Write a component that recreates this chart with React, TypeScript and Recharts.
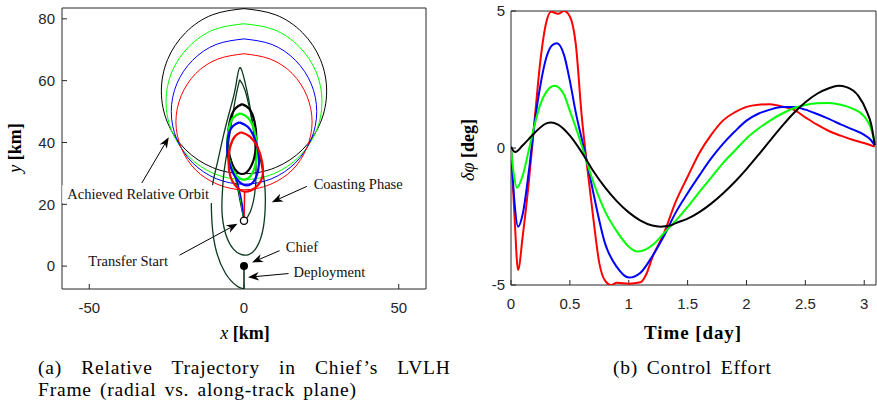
import React from 'react'
import { ScatterChart, Scatter, XAxis, YAxis, ReferenceLine } from 'recharts'

// ─── (a) relative trajectory in the chief's LVLH frame, [x km, y km] ─────

const orbitBlack = [[0, 83.3], [10.2, 81.3], [18.9, 75.5], [24.7, 66.8], [26.7, 56.6], [24.7, 46.4], [18.9, 37.7], [10.2, 31.9], [0, 29.9], [-10.2, 31.9], [-18.9, 37.7], [-24.7, 46.4], [-26.7, 56.6], [-24.7, 66.8], [-18.9, 75.5], [-10.2, 81.3], [0, 83.3]]
const orbitGreen = [[0, 78.4], [9.65, 76.5], [17.8, 71.0], [23.3, 62.85], [25.2, 53.2], [23.3, 43.55], [17.8, 35.4], [9.65, 29.9], [0, 28.0], [-9.65, 29.9], [-17.8, 35.4], [-23.3, 43.55], [-25.2, 53.2], [-23.3, 62.85], [-17.8, 71.0], [-9.65, 76.5], [0, 78.4]]
const orbitBlue = [[0, 73.5], [9.0, 71.7], [16.6, 66.6], [21.7, 59.0], [23.5, 50], [21.7, 41.0], [16.6, 33.4], [9.0, 28.3], [0, 26.5], [-9.0, 28.3], [-16.6, 33.4], [-21.7, 41.0], [-23.5, 50], [-21.7, 59.0], [-16.6, 66.6], [-9.0, 71.7], [0, 73.5]]
const orbitRed = [[0, 68.7], [8.4, 67.0], [15.6, 62.3], [20.3, 55.1], [22, 46.7], [20.3, 38.3], [15.6, 31.1], [8.4, 26.4], [0, 24.7], [-8.4, 26.4], [-15.6, 31.1], [-20.3, 38.3], [-22, 46.7], [-20.3, 55.1], [-15.6, 62.3], [-8.4, 67.0], [0, 68.7]]

const loopBlack = [[-0.6, 52.4], [1.7, 50.9], [3.4, 46.75], [4.0, 41.1], [3.4, 35.45], [1.7, 31.3], [-0.6, 29.8], [-2.9, 31.3], [-4.6, 35.45], [-5.2, 41.1], [-4.6, 46.75], [-2.9, 50.9], [-0.6, 52.4]]
const loopGreen = [[-1.2, 49.4], [1.3, 48.0], [3.3, 44.05], [4.2, 38.7], [3.8, 33.35], [2.3, 29.4], [-0.05, 28.0], [-2.5, 29.4], [-4.5, 33.35], [-5.4, 38.7], [-5.0, 44.05], [-3.5, 48.0], [-1.2, 49.4]]
const loopBlue = [[-1.5, 46.5], [1.2, 45.1], [3.4, 41.4], [4.7, 36.3], [4.6, 31.2], [3.2, 27.5], [0.9, 26.1], [-1.8, 27.5], [-4.0, 31.2], [-5.3, 36.3], [-5.2, 41.4], [-3.8, 45.1], [-1.5, 46.5]]
const loopRed = [[-1.0, 43.3], [1.8, 42.0], [4.4, 38.5], [5.9, 33.5], [5.9, 28.8], [3.6, 25.3], [0.2, 24.1], [-2.6, 25.8], [-4.4, 29.0], [-5.0, 33.7], [-4.5, 38.5], [-2.9, 42.0], [-1.0, 43.3]]

const tailBlack = [[0, 15], [-1.0, 20], [-2.4, 27], [-3.8, 33], [-4.6, 35.45]]
const tailGreen = [[0, 15], [-0.8, 20], [-2.0, 26], [-3.4, 31]]
const tailBlue = [[0, 15], [-0.6, 20], [-1.6, 25], [-2.6, 28.5]]
const tailRed = [[0, 15], [0.1, 19], [0.2, 24.1]]

const deployPath = [[0, -7.4], [-2.3, -6.4], [-6.0, -2.3], [-9.3, 6.3], [-10.5, 17.2], [-10.2, 26], [-8.7, 33], [-6.7, 42], [-4.5, 50.6], [-2.7, 58], [-1.4, 64.2], [0.2, 60], [1.5, 54], [2.8, 46], [3.6, 38], [3.9, 30], [3.4, 23], [2.0, 17.5], [0.3, 14.8]]
const coastPath = [[-1.4, 60.3], [0.3, 57], [2.0, 50], [3.6, 42], [5.3, 34.4], [6.6, 27], [6.9, 21], [6.3, 12.8], [4.2, 6.3], [1.5, 3.7], [-1.0, 3.8], [-3.4, 5.5], [-5.8, 10], [-7.0, 16], [-7.1, 21.5], [-6.5, 30], [-5.3, 38], [-3.9, 47.3], [-2.6, 55], [-1.4, 60.3]]
const deployStem = [[0, 0], [0, -7.4]]

const chiefAt = [[0, 0]]
const transferStartAt = [[0, 14.7]]

const noteLabels = ['Achieved Relative Orbit', 'Coasting Phase', 'Transfer Start', 'Chief', 'Deployment']
const noteAt = [[-57.1, 23.3], [22.5, 26.5], [-50.3, 1.7], [13.5, 6.3], [16.0, -1.9]]
const arrowFrom = [[-33, 26.9], [20.3, 25.8], [-22.2, 2.8], [11.5, 5.0], [15.5, -2.3]]
const arrowTo = [[-24.3, 41.7], [9.0, 20.7], [-2.1, 13.7], [2.6, 1.2], [1.3, -3.6]]

const xTicksA = [-50, 0, 50]
const yTicksA = [0, 20, 40, 60, 80]

// ─── (b) control effort, [time day, δφ deg] ──────────────────────────────

const effortRed = [[0, 0], [0.03, -2.5], [0.06, -4.45], [0.1, -3.2], [0.15, -1.3], [0.2, 1.0], [0.25, 3.2], [0.3, 4.6], [0.34, 4.97], [0.4, 4.9], [0.45, 5.0], [0.5, 4.8], [0.55, 3.8], [0.6, 1.2], [0.65, -0.8], [0.7, -2.6], [0.75, -4.2], [0.8, -4.85], [0.85, -5.0], [0.9, -4.92], [1.0, -4.95], [1.1, -4.9], [1.15, -4.6], [1.2, -4.0], [1.3, -3.1], [1.4, -1.95], [1.5, -1.05], [1.6, -0.18], [1.7, 0.48], [1.8, 1.0], [1.9, 1.3], [2.0, 1.5], [2.1, 1.58], [2.2, 1.6], [2.3, 1.52], [2.4, 1.4], [2.5, 1.12], [2.6, 0.85], [2.7, 0.62], [2.8, 0.45], [2.9, 0.3], [3.0, 0.18], [3.09, 0.05]]
const effortBlue = [[0, 0], [0.03, -2.0], [0.06, -2.87], [0.1, -2.4], [0.15, -0.9], [0.2, 0.9], [0.25, 2.3], [0.3, 3.3], [0.35, 3.75], [0.39, 3.82], [0.45, 3.4], [0.5, 2.45], [0.55, 1.3], [0.6, 0.35], [0.65, -0.6], [0.7, -1.65], [0.8, -3.5], [0.9, -4.35], [1.0, -4.73], [1.1, -4.55], [1.2, -3.95], [1.3, -3.2], [1.4, -2.35], [1.5, -1.65], [1.6, -1.0], [1.7, -0.38], [1.8, 0.15], [1.9, 0.6], [2.0, 1.0], [2.1, 1.25], [2.2, 1.4], [2.3, 1.5], [2.4, 1.5], [2.5, 1.4], [2.6, 1.24], [2.7, 1.06], [2.8, 0.86], [2.9, 0.68], [3.0, 0.48], [3.05, 0.32], [3.09, 0.1]]
const effortGreen = [[0, 0], [0.025, -1.0], [0.05, -1.45], [0.1, -1.0], [0.15, -0.1], [0.2, 0.84], [0.25, 1.6], [0.3, 2.05], [0.37, 2.27], [0.45, 1.95], [0.5, 1.35], [0.55, 0.75], [0.6, 0.1], [0.65, -0.6], [0.7, -1.25], [0.8, -2.32], [0.9, -3.05], [1.0, -3.6], [1.08, -3.78], [1.2, -3.55], [1.3, -3.1], [1.4, -2.65], [1.5, -2.15], [1.6, -1.6], [1.7, -1.08], [1.8, -0.55], [1.9, -0.1], [2.0, 0.35], [2.1, 0.7], [2.2, 1.0], [2.3, 1.25], [2.4, 1.45], [2.5, 1.57], [2.6, 1.63], [2.7, 1.64], [2.8, 1.58], [2.9, 1.44], [3.0, 1.15], [3.05, 0.8], [3.09, 0.2]]
const effortBlack = [[0, 0.05], [0.035, -0.15], [0.1, 0.1], [0.2, 0.55], [0.3, 0.9], [0.34, 0.93], [0.4, 0.85], [0.5, 0.45], [0.6, -0.15], [0.7, -0.85], [0.8, -1.45], [0.9, -1.95], [1.0, -2.35], [1.1, -2.65], [1.2, -2.83], [1.27, -2.87], [1.35, -2.83], [1.4, -2.74], [1.5, -2.58], [1.6, -2.34], [1.7, -2.03], [1.8, -1.66], [1.9, -1.24], [2.0, -0.77], [2.1, -0.26], [2.2, 0.27], [2.3, 0.79], [2.4, 1.27], [2.5, 1.67], [2.6, 1.98], [2.7, 2.18], [2.78, 2.27], [2.85, 2.22], [2.95, 1.9], [3.02, 1.35], [3.06, 0.85], [3.09, 0.1]]

const xTicksB = [0, 0.5, 1, 1.5, 2, 2.5, 3]
const yTicksB = [-5, 0, 5]

// ─── styling ──────────────────────────────────────────────────────────────

const AX = '#262626'
const DARK_GREEN = '#0b3a1c'
const SERIF = '"Liberation Serif", "Times New Roman", serif'
const SANS = '"Liberation Sans", Arial, Helvetica, sans-serif'
const tickFont = { fill: AX, fontSize: 15, fontFamily: SANS }

const toPts = (a: number[][]) => a.map(([x, y]) => ({ x, y }))
const NoMark = () => <g />

function ArrowShape(p: any) {
  const { x1, y1, x2, y2 } = p
  const ang = Math.atan2(y2 - y1, x2 - x1)
  const L = 11, W = 4.2
  const c = Math.cos(ang), s = Math.sin(ang)
  const bx = x2 - L * c, by = y2 - L * s
  const nx = x2 - 0.7 * L * c, ny = y2 - 0.7 * L * s
  return (
    <g>
      <line x1={x1} y1={y1} x2={nx} y2={ny} stroke="#000" strokeWidth={1} />
      <polygon points={`${x2},${y2} ${bx - s * W},${by + c * W} ${nx},${ny} ${bx + s * W},${by - c * W}`} fill="#000" />
    </g>
  )
}

function NoteShape(p: any) {
  const { cx, cy, payload } = p
  const w = payload.label.length * 6.3
  return (
    <g>
      <rect x={cx - 5} y={cy - 9} width={w + 8} height={18} fill="#fff" />
      <text x={cx} y={cy} dominantBaseline="central" fontSize={14.5} fontFamily={SERIF} fill="#111">{payload.label}</text>
    </g>
  )
}

function curve(key: string, data: number[][], color: string, width: number, joint = 'natural') {
  return (
    <Scatter
      key={key}
      xAxisId="b"
      yAxisId="l"
      data={toPts(data)}
      fill={color}
      line={{ stroke: color, strokeWidth: width, fill: 'none' }}
      lineJointType={joint as any}
      shape={NoMark}
      isAnimationActive={false}
    />
  )
}

function boxAxes(xDomain: number[], xTicks: number[], yDomain: number[], yTicks: number[], bottomH: number, topH: number, leftW: number, rightW: number, yMargin: number) {
  return [
    <XAxis key="xb" xAxisId="b" type="number" dataKey="x" domain={xDomain} ticks={xTicks} allowDataOverflow height={bottomH}
      stroke={AX} tickSize={-5} tickMargin={18} tick={tickFont} interval={0} />,
    <XAxis key="xt" xAxisId="t" orientation="top" type="number" dataKey="x" domain={xDomain} ticks={xTicks} allowDataOverflow height={topH}
      stroke={AX} tickSize={-5} tick={false} interval={0} />,
    <YAxis key="yl" yAxisId="l" type="number" dataKey="y" domain={yDomain} ticks={yTicks} allowDataOverflow width={leftW}
      stroke={AX} tickSize={-5} tickMargin={yMargin} tick={tickFont} interval={0} />,
    <YAxis key="yr" yAxisId="r" orientation="right" type="number" dataKey="y" domain={yDomain} ticks={yTicks} allowDataOverflow width={rightW}
      stroke={AX} tickSize={-5} tick={false} interval={0} />,
  ]
}

// ─── component ────────────────────────────────────────────────────────────

export default function App() {
  return (
    <div style={{ position: 'absolute', left: 0, top: 0, width: 877, height: 403, background: '#fff', overflow: 'hidden' }}>
      {/* (a) trajectory */}
      <div style={{ position: 'absolute', left: 0, top: 0 }}>
        <ScatterChart width={440} height={340} margin={{ top: 0, right: 0, bottom: 0, left: 0 }}>
          {boxAxes([-58.8, 58.8], xTicksA, [-7.4, 83.5], yTicksA, 51, 8, 62, 14, 12)}
          {curve('ob', orbitBlack, '#000000', 1)}
          {curve('og', orbitGreen, '#00ff00', 1)}
          {curve('obl', orbitBlue, '#0000ff', 1)}
          {curve('or', orbitRed, '#ff0000', 1)}
          {curve('dp', deployPath, DARK_GREEN, 1.3)}
          {curve('cp', coastPath, DARK_GREEN, 1.3)}
          {curve('ds', deployStem, DARK_GREEN, 1.6, 'linear')}
          {curve('tb', tailBlack, '#000000', 1.5)}
          {curve('tg', tailGreen, '#00ff00', 1.5)}
          {curve('tbl', tailBlue, '#0000ff', 1.5)}
          {curve('tr', tailRed, '#ff0000', 1.5)}
          {curve('lb', loopBlack, '#000000', 2.2)}
          {curve('lg', loopGreen, '#00ff00', 2.2)}
          {curve('lbl', loopBlue, '#0000ff', 2.2)}
          {curve('lr', loopRed, '#ff0000', 2.2)}
          <Scatter xAxisId="b" yAxisId="l" data={toPts(chiefAt)} fill="#000" isAnimationActive={false}
            shape={(p: any) => <circle cx={p.cx} cy={p.cy} r={4} fill="#000" />} />
          <Scatter xAxisId="b" yAxisId="l" data={toPts(transferStartAt)} fill="#fff" isAnimationActive={false}
            shape={(p: any) => <circle cx={p.cx} cy={p.cy} r={3.6} fill="#fff" stroke="#000" strokeWidth={1.3} />} />
          <Scatter xAxisId="b" yAxisId="l" isAnimationActive={false} shape={NoteShape}
            data={noteLabels.map((label, i) => ({ x: noteAt[i][0], y: noteAt[i][1], label }))} />
          {arrowFrom.map((f, i) => (
            <ReferenceLine key={'ar' + i} xAxisId="b" yAxisId="l" ifOverflow="visible"
              segment={[{ x: f[0], y: f[1] }, { x: arrowTo[i][0], y: arrowTo[i][1] }]}
              shape={ArrowShape} />
          ))}
        </ScatterChart>
      </div>

      {/* (b) control effort */}
      <div style={{ position: 'absolute', left: 440, top: 0 }}>
        <ScatterChart width={437} height={340} margin={{ top: 0, right: 0, bottom: 0, left: 0 }}>
          {boxAxes([0, 3.1], xTicksB, [-5, 5], yTicksB, 55, 11, 71, 1, 11)}
          {curve('er', effortRed, '#ff0000', 2, 'monotoneX')}
          {curve('ebl', effortBlue, '#0000ff', 2, 'monotoneX')}
          {curve('eg', effortGreen, '#00ff00', 2, 'monotoneX')}
          {curve('ek', effortBlack, '#000000', 2, 'monotoneX')}
        </ScatterChart>
      </div>

      {/* axis titles and captions */}
      <svg width={877} height={403} style={{ position: 'absolute', left: 0, top: 0, pointerEvents: 'none' }}>
        <g fontFamily={SERIF} fill="#000">
          <text x={245} y={339} textAnchor="middle" fontSize={18}>
            <tspan fontStyle="italic">x</tspan> <tspan fontWeight="bold">[km]</tspan>
          </text>
          <text transform="translate(21,148) rotate(-90)" textAnchor="middle" fontSize={18}>
            <tspan fontStyle="italic">y</tspan> <tspan fontWeight="bold">[km]</tspan>
          </text>
          <text x={693} y={339} textAnchor="middle" fontSize={19} fontWeight="bold" letterSpacing={0.9}>Time [day]</text>
          <text transform="translate(474,150) rotate(-90)" textAnchor="middle" fontSize={18}>
            <tspan fontStyle="italic">δφ</tspan> <tspan fontWeight="bold">[deg]</tspan>
          </text>
          <text x={38} y={374} fontSize={19.5} letterSpacing={0.8} wordSpacing={13.5}>(a) Relative Trajectory in Chief’s LVLH</text>
          <text x={38} y={396} fontSize={19.5} letterSpacing={0.8} wordSpacing={2.5}>Frame (radial vs. along-track plane)</text>
          <text x={613} y={374} fontSize={19.5} letterSpacing={0.8} wordSpacing={3}>(b) Control Effort</text>
        </g>
      </svg>
    </div>
  )
}
